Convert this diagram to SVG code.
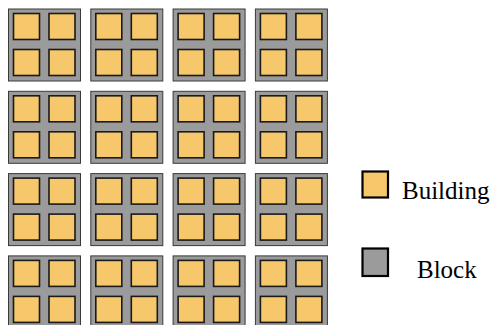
<svg xmlns="http://www.w3.org/2000/svg" width="496" height="325" viewBox="0 0 496 325">
<style>
.blk{fill:#9b9b9b;stroke:#3a3a3a;stroke-width:1}
.bld{fill:#f6c76b;stroke:#1a1a1a;stroke-width:1.6}
.lg{stroke:#000;stroke-width:2.2}
.t{font-family:"Liberation Serif","Times New Roman",serif;font-size:25px;fill:#000}
</style>
<defs>
<g id="cell">
<rect class="blk" x="0" y="0" width="72" height="72"/>
<rect class="bld" x="5" y="4.5" width="26" height="26"/>
<rect class="bld" x="40.5" y="4.5" width="26" height="26"/>
<rect class="bld" x="5" y="40.5" width="26" height="26"/>
<rect class="bld" x="40.5" y="40.5" width="26" height="26"/>
</g>
</defs>
<g id="block-r1c1" transform="translate(8.5,9)"><use href="#cell"/></g>
<g id="block-r1c2" transform="translate(90.8,9)"><use href="#cell"/></g>
<g id="block-r1c3" transform="translate(173.1,9)"><use href="#cell"/></g>
<g id="block-r1c4" transform="translate(255.4,9)"><use href="#cell"/></g>
<g id="block-r2c1" transform="translate(8.5,91.3)"><use href="#cell"/></g>
<g id="block-r2c2" transform="translate(90.8,91.3)"><use href="#cell"/></g>
<g id="block-r2c3" transform="translate(173.1,91.3)"><use href="#cell"/></g>
<g id="block-r2c4" transform="translate(255.4,91.3)"><use href="#cell"/></g>
<g id="block-r3c1" transform="translate(8.5,173.6)"><use href="#cell"/></g>
<g id="block-r3c2" transform="translate(90.8,173.6)"><use href="#cell"/></g>
<g id="block-r3c3" transform="translate(173.1,173.6)"><use href="#cell"/></g>
<g id="block-r3c4" transform="translate(255.4,173.6)"><use href="#cell"/></g>
<g id="block-r4c1" transform="translate(8.5,255.9)"><use href="#cell"/></g>
<g id="block-r4c2" transform="translate(90.8,255.9)"><use href="#cell"/></g>
<g id="block-r4c3" transform="translate(173.1,255.9)"><use href="#cell"/></g>
<g id="block-r4c4" transform="translate(255.4,255.9)"><use href="#cell"/></g>
<g id="connectors"></g>
<g id="legend-building">
<rect class="lg" x="362.5" y="171.5" width="25.5" height="26" fill="#f6c76b"/>
<text class="t" x="402" y="199">Building</text>
</g>
<g id="legend-block">
<rect class="lg" x="362.5" y="248.5" width="25.5" height="27.5" fill="#9b9b9b"/>
<text class="t" x="417" y="278">Block</text>
</g>
</svg>
